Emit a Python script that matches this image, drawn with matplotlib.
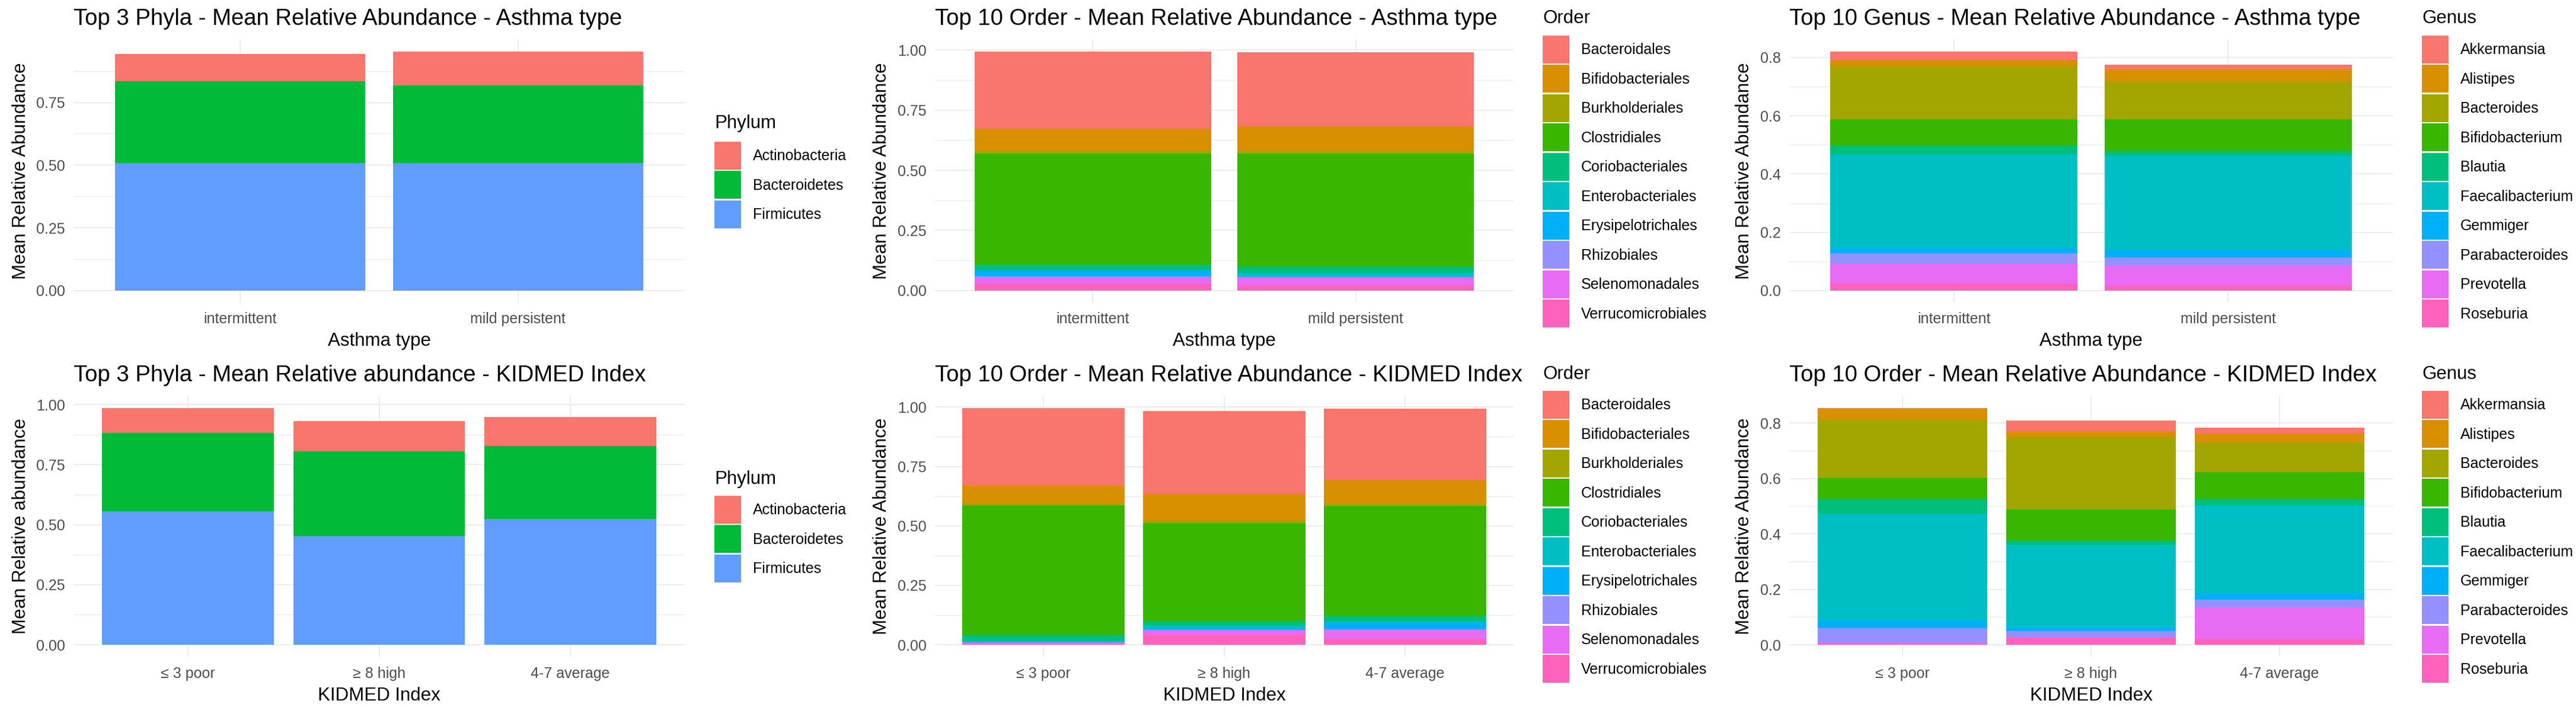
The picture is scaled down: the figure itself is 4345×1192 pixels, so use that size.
import numpy as np
import matplotlib
matplotlib.use('Agg')
import matplotlib.pyplot as plt
from matplotlib.patches import Patch

plt.rcParams['font.family'] = ['Liberation Sans', 'DejaVu Sans']

W, H = 4345, 1192

# ---------------- data ----------------
asthma_types = ['intermittent', 'mild persistent']
kidmed_groups = ['\u2264 3 poor', '\u2265 8 high', '4-7 average']

phyla = ['Actinobacteria', 'Bacteroidetes', 'Firmicutes']
phyla_colors = ['#F8766D', '#00BA38', '#619CFF']

orders = ['Bacteroidales', 'Bifidobacteriales', 'Burkholderiales', 'Clostridiales',
          'Coriobacteriales', 'Enterobacteriales', 'Erysipelotrichales', 'Rhizobiales',
          'Selenomonadales', 'Verrucomicrobiales']
genera = ['Akkermansia', 'Alistipes', 'Bacteroides', 'Bifidobacterium', 'Blautia',
          'Faecalibacterium', 'Gemmiger', 'Parabacteroides', 'Prevotella', 'Roseburia']
hue10 = ['#F8766D', '#D89000', '#A3A500', '#39B600', '#00BF7D',
         '#00BFC4', '#00B0F6', '#9590FF', '#E76BF3', '#FF62BC']

# values: one row per taxon, one column per group
phyla_asthma = [
    [0.110, 0.135],   # Actinobacteria
    [0.326, 0.309],   # Bacteroidetes
    [0.508, 0.508],   # Firmicutes
]
phyla_kidmed = [
    [0.105, 0.126, 0.121],
    [0.325, 0.353, 0.306],
    [0.556, 0.452, 0.523],
]
order_asthma = [
    [0.321, 0.308],   # Bacteroidales
    [0.090, 0.104],   # Bifidobacteriales
    [0.012, 0.008],   # Burkholderiales
    [0.463, 0.472],   # Clostridiales
    [0.021, 0.024],   # Coriobacteriales
    [0.003, 0.014],   # Enterobacteriales
    [0.025, 0.003],   # Erysipelotrichales
    [0.003, 0.003],   # Rhizobiales
    [0.027, 0.034],   # Selenomonadales
    [0.028, 0.020],   # Verrucomicrobiales
]
order_kidmed = [
    [0.326, 0.349, 0.300],
    [0.076, 0.110, 0.102],
    [0.008, 0.013, 0.008],
    [0.546, 0.414, 0.460],
    [0.025, 0.016, 0.025],
    [0.003, 0.011, 0.006],
    [0.002, 0.008, 0.026],
    [0.003, 0.002, 0.003],
    [0.003, 0.020, 0.039],
    [0.004, 0.040, 0.024],
]
genus_asthma = [
    [0.029, 0.017],   # Akkermansia
    [0.020, 0.043],   # Alistipes
    [0.182, 0.128],   # Bacteroides
    [0.090, 0.109],   # Bifidobacterium
    [0.033, 0.018],   # Blautia
    [0.319, 0.320],   # Faecalibacterium
    [0.020, 0.028],   # Gemmiger
    [0.035, 0.027],   # Parabacteroides
    [0.068, 0.071],   # Prevotella
    [0.024, 0.015],   # Roseburia
]
genus_kidmed = [
    [0.003, 0.038, 0.023],
    [0.039, 0.021, 0.031],
    [0.210, 0.261, 0.108],
    [0.076, 0.112, 0.097],
    [0.055, 0.018, 0.022],
    [0.384, 0.296, 0.316],
    [0.027, 0.014, 0.025],
    [0.051, 0.022, 0.028],
    [0.004, 0.002, 0.113],
    [0.005, 0.025, 0.021],
]

TICK_FS = 18
AXT_FS = 22.5
TITLE_FS = 27.5
GRID = '#EBEBEB'
TICKC = '#4D4D4D'

fig = plt.figure(figsize=(W / 100, H / 100), dpi=100)
fig.patch.set_facecolor('white')


def draw_panel(box, cats, taxa, colors, vals, step, fmt, title, xlabel, ylabel,
               ylab_x, title_y, xtick_y, xlab_y, leg_x, leg_top, legtitle, legtitle_y):
    x0, y0, x1, y1 = box
    w, h = x1 - x0, y1 - y0
    ax = fig.add_axes([x0 / W, 1 - y1 / H, w / W, h / H])
    xpos = np.arange(len(cats))
    bottoms = np.zeros(len(cats))
    for col, v in reversed(list(zip(colors, vals))):
        v = np.asarray(v, dtype=float)
        ax.bar(xpos, v, bottom=bottoms, width=0.9, color=col, linewidth=0, zorder=2)
        bottoms = bottoms + v
    top = bottoms.max()
    ax.set_xlim(-0.6, len(cats) - 0.4)
    ax.set_ylim(-0.05 * top, 1.05 * top)
    grid_steps = np.arange(0, 1.2, step)
    majors = [t for t in grid_steps if t <= 1.05 * top + 1e-9]
    minors = [t + step / 2 for t in grid_steps if t + step / 2 <= 1.05 * top]
    ax.set_yticks(majors)
    ax.set_yticklabels([fmt.format(t) for t in majors])
    ax.set_yticks(minors, minor=True)
    ax.set_xticks(xpos)
    ax.set_xticklabels(cats)
    ax.grid(which='major', color=GRID, lw=1.3, zorder=0)
    ax.grid(which='minor', axis='y', color=GRID, lw=1.0, zorder=0)
    ax.set_axisbelow(True)
    for s in ax.spines.values():
        s.set_visible(False)
    ax.tick_params(which='both', length=0, labelsize=TICK_FS, labelcolor=TICKC)
    ax.tick_params(axis='y', pad=10)
    for lab in ax.get_xticklabels():
        lab.set_verticalalignment('center')
    ax.tick_params(axis='x', pad=(xtick_y - y1) * 0.72)
    ax.set_xlabel(xlabel, fontsize=AXT_FS)
    ax.xaxis.label.set_verticalalignment('center')
    ax.xaxis.set_label_coords(0.5, (y1 - xlab_y) / h)
    ax.set_ylabel(ylabel, fontsize=AXT_FS)
    ax.yaxis.label.set_verticalalignment('center')
    ax.yaxis.set_label_coords((ylab_x - x0) / w, 0.5)
    ax.set_title(title, loc='left', fontsize=TITLE_FS, y=1 + (y0 - title_y) / h,
                 va='center', pad=0)
    handles = [Patch(facecolor=c, edgecolor='none', label=t) for t, c in zip(taxa, colors)]
    fig.legend(handles=handles, loc='upper left', bbox_to_anchor=(leg_x / W, 1 - leg_top / H),
               frameon=False, fontsize=TICK_FS, handlelength=1.8, handleheight=2.515,
               labelspacing=0.1, handletextpad=0.8, borderpad=0, borderaxespad=0)
    fig.text(leg_x / W, 1 - legtitle_y / H, legtitle, fontsize=AXT_FS, ha='left', va='center')
    return ax


r1 = dict(title_y=32, xtick_y=538, xlab_y=575)
r2 = dict(title_y=633, xtick_y=1136, xlab_y=1173)

draw_panel((124, 67, 1155, 510), asthma_types, phyla, phyla_colors, phyla_asthma, 0.25, '{:.2f}',
           'Top 3 Phyla - Mean Relative Abundance - Asthma type', 'Asthma type',
           'Mean Relative Abundance', 35, leg_x=1205, leg_top=239, legtitle='Phylum',
           legtitle_y=208, **r1)
draw_panel((1577, 67, 2553, 510), asthma_types, orders, hue10, order_asthma, 0.25, '{:.2f}',
           'Top 10 Order - Mean Relative Abundance - Asthma type', 'Asthma type',
           'Mean Relative Abundance', 1487, leg_x=2602, leg_top=60, legtitle='Order',
           legtitle_y=31, **r1)
draw_panel((3018, 67, 4036, 510), asthma_types, genera, hue10, genus_asthma, 0.2, '{:.1f}',
           'Top 10 Genus - Mean Relative Abundance - Asthma type', 'Asthma type',
           'Mean Relative Abundance', 2942, leg_x=4085, leg_top=60, legtitle='Genus',
           legtitle_y=31, **r1)
draw_panel((124, 668, 1155, 1107), kidmed_groups, phyla, phyla_colors, phyla_kidmed, 0.25, '{:.2f}',
           'Top 3 Phyla - Mean Relative abundance - KIDMED Index', 'KIDMED Index',
           'Mean Relative abundance', 35, leg_x=1205, leg_top=836, legtitle='Phylum',
           legtitle_y=808, **r2)
draw_panel((1577, 668, 2553, 1107), kidmed_groups, orders, hue10, order_kidmed, 0.25, '{:.2f}',
           'Top 10 Order - Mean Relative Abundance - KIDMED Index', 'KIDMED Index',
           'Mean Relative Abundance', 1487, leg_x=2602, leg_top=659, legtitle='Order',
           legtitle_y=631, **r2)
draw_panel((3018, 668, 4036, 1107), kidmed_groups, genera, hue10, genus_kidmed, 0.2, '{:.1f}',
           'Top 10 Order - Mean Relative Abundance - KIDMED Index', 'KIDMED Index',
           'Mean Relative Abundance', 2942, leg_x=4085, leg_top=659, legtitle='Genus',
           legtitle_y=631, **r2)

fig.savefig('out.png', dpi=100, facecolor='white')
